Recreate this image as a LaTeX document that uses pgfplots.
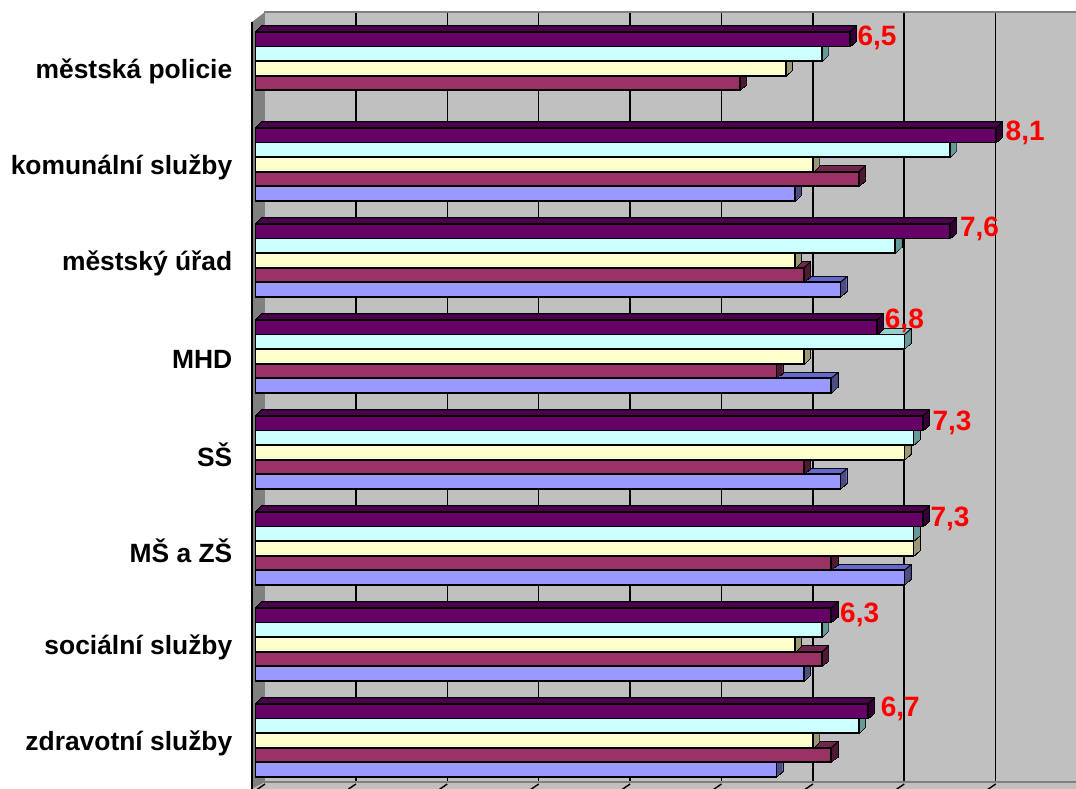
\documentclass[border=0pt]{standalone}
\usepackage{pgfplots}
\usepackage{pgfplotstable}
\usepackage{fontspec}
\setmainfont{Liberation Sans}
\pgfplotsset{compat=1.18}
\newlength\px \setlength\px{0.75pt}
\definecolor{wall}{HTML}{C0C0C0}
\definecolor{lwall}{HTML}{808080}
\definecolor{cA}{HTML}{660066}\definecolor{tA}{HTML}{4D004D}\definecolor{sA}{HTML}{330033}
\definecolor{cB}{HTML}{CCFFFF}\definecolor{tB}{HTML}{99CCCC}\definecolor{sB}{HTML}{669999}
\definecolor{cC}{HTML}{FFFFCC}\definecolor{tC}{HTML}{BFBF99}\definecolor{sC}{HTML}{999973}
\definecolor{cD}{HTML}{993366}\definecolor{tD}{HTML}{73264D}\definecolor{sD}{HTML}{4D1933}
\definecolor{cE}{HTML}{9999FF}\definecolor{tE}{HTML}{6666CC}\definecolor{sE}{HTML}{4D4D80}
% y: 0 = zdravotni sluzby ... 7 = mestska policie
\pgfplotstableread{
v y lab dx dy
6.7 0 {6,7} 12 25
6.3 1 {6,3} 8 23
7.3 2 {7,3} 7 23.5
7.3 3 {7,3} 9 23.5
6.8 4 {6,8} 7 29.5
7.6 5 {7,6} 9 26
8.1 6 {8,1} 9 26
6.5 7 {6,5} 7 25
}\tabA
\pgfplotstableread{
v y
6.6 0
6.2 1
7.2 2
7.2 3
7.1 4
7.0 5
7.6 6
6.2 7
}\tabB
\pgfplotstableread{
v y
6.1 0
5.9 1
7.2 2
7.1 3
6.0 4
5.9 5
6.1 6
5.8 7
}\tabC
\pgfplotstableread{
v y
6.3 0
6.2 1
6.3 2
6.0 3
5.7 4
6.0 5
6.6 6
5.3 7
}\tabD
\pgfplotstableread{
v y
5.7 0
6.0 1
7.1 2
6.4 3
6.3 4
6.4 5
5.9 6
}\tabE
% one bar series: shifted copies form the depth of the bars, then the front face
\newcommand\barseries[7]{% table, face, top, side, shift in px, front options, table options
  \pgfplotsinvokeforeach{1,...,6}{%
    \addplot[xbar, bar width=14.6*\px, bar shift=#5*\px, draw=black, line width=1.8*\px, fill=black,
      xshift=##1*1.05*\px, yshift=##1*0.92*\px] table[x=v,y=y] {#1};}
  \pgfplotsinvokeforeach{1,...,6}{%
    \addplot[xbar, bar width=14.6*\px, bar shift=#5*\px, draw=none, fill=#3,
      xshift=##1*1.05*\px, yshift=##1*0.92*\px] table[x=v,y=y] {#1};}
  \pgfplotsinvokeforeach{1,...,5}{%
    \addplot[draw=none, mark=none, xshift=##1*1.05*\px, yshift=(#5+##1*0.92)*\px,
      error bars/.cd, y dir=both, y fixed=0.074, error mark=none,
      error bar style={draw=#4, line width=1.5*\px, line cap=butt}] table[x=v,y=y] {#1};}
  \addplot[black, line width=1*\px, quiver={u=0.069, v=0.0575}, yshift=(#5+7.3)*\px] table[x=v,y=y] {#1};
  \addplot[xbar, bar width=14.6*\px, bar shift=#5*\px, draw=black, line width=1.8*\px, fill=#2, #6] table[x=v,y=y,#7] {#1};
}
\begin{document}
\begin{tikzpicture}[x=1pt,y=1pt]
\useasboundingbox (0,0) rectangle (1076*\px,789*\px);
% side wall and floor
\fill[lwall] (252*\px,767*\px) -- (265*\px,777*\px) -- (265*\px,7*\px) -- (252*\px,-3*\px) -- cycle;
\fill[wall] (252*\px,0) -- (265*\px,7*\px) -- (1076*\px,7*\px) -- (1076*\px,0) -- cycle;
% back wall
\begin{axis}[name=back, anchor=south west, at={(264.5*\px,7*\px)}, scale only axis,
  width=9*91.4*\px, height=770*\px, xmin=0, xmax=9, ymin=0, ymax=1,
  axis background/.style={fill=wall},
  xtick={1,2,3,4,5,6,7,8}, ytick=\empty, xticklabels={}, major tick length=0pt,
  xmajorgrids, grid style={black, line width=1.6*\px},
  axis line style={draw=lwall, line width=1.6*\px}]
\end{axis}
\foreach \k in {1,...,8}{\draw[black,line width=1.4*\px] ({(264.5+91.4*\k)*\px},5*\px) -- ++(-8*\px,-5.5*\px);}
\draw[black,line width=1.4*\px] (265*\px,5*\px) -- ++(-8*\px,-5.5*\px);
% front plane: bars, category axis, labels
\begin{axis}[name=main, anchor=south west, at={(252*\px,-1*\px)}, scale only axis,
  width=9.0383*91.4*\px, height=768*\px, xmin=-0.0383, xmax=9, ymin=-0.5, ymax=7.5,
  clip=false, axis x line=none, axis y line*=left,
  y axis line style={draw=black, line width=2*\px, -},
  ytick={0,1,2,3,4,5,6,7},
  yticklabels={zdravotní služby, sociální služby, MŠ a ZŠ, SŠ, MHD, městský úřad, komunální služby, městská policie},
  yticklabel style={font=\fontsize{19.8}{22}\selectfont\bfseries, anchor=east, xshift=-2*\px, yshift=-1*\px},
  ytick style={draw=none}, major tick length=13*\px, tick align=outside,
  extra y ticks={-0.5,0.5,1.5,2.5,3.5,4.5,5.5,6.5,7.5},
  extra y tick labels={},
  extra y tick style={tick style={draw=black, line width=1.3*\px}}]
\barseries{\tabE}{cE}{tE}{sE}{-27.6}{}{}
\barseries{\tabD}{cD}{tD}{sD}{-13}{}{}
\barseries{\tabC}{cC}{tC}{sC}{1.6}{}{}
\barseries{\tabB}{cB}{tB}{sB}{16.2}{}{}
\barseries{\tabA}{cA}{tA}{sA}{30.8}{point meta=explicit symbolic, nodes near coords,
    visualization depends on={\thisrow{dx} \as \ldx},
    visualization depends on={\thisrow{dy} \as \ldy},
    nodes near coords style={font=\fontsize{21}{23}\selectfont\bfseries, text=red, anchor=base west, inner sep=0pt, xshift=\ldx*\px, yshift=\ldy*\px}}{meta=lab}
\end{axis}
\end{tikzpicture}
\end{document}
